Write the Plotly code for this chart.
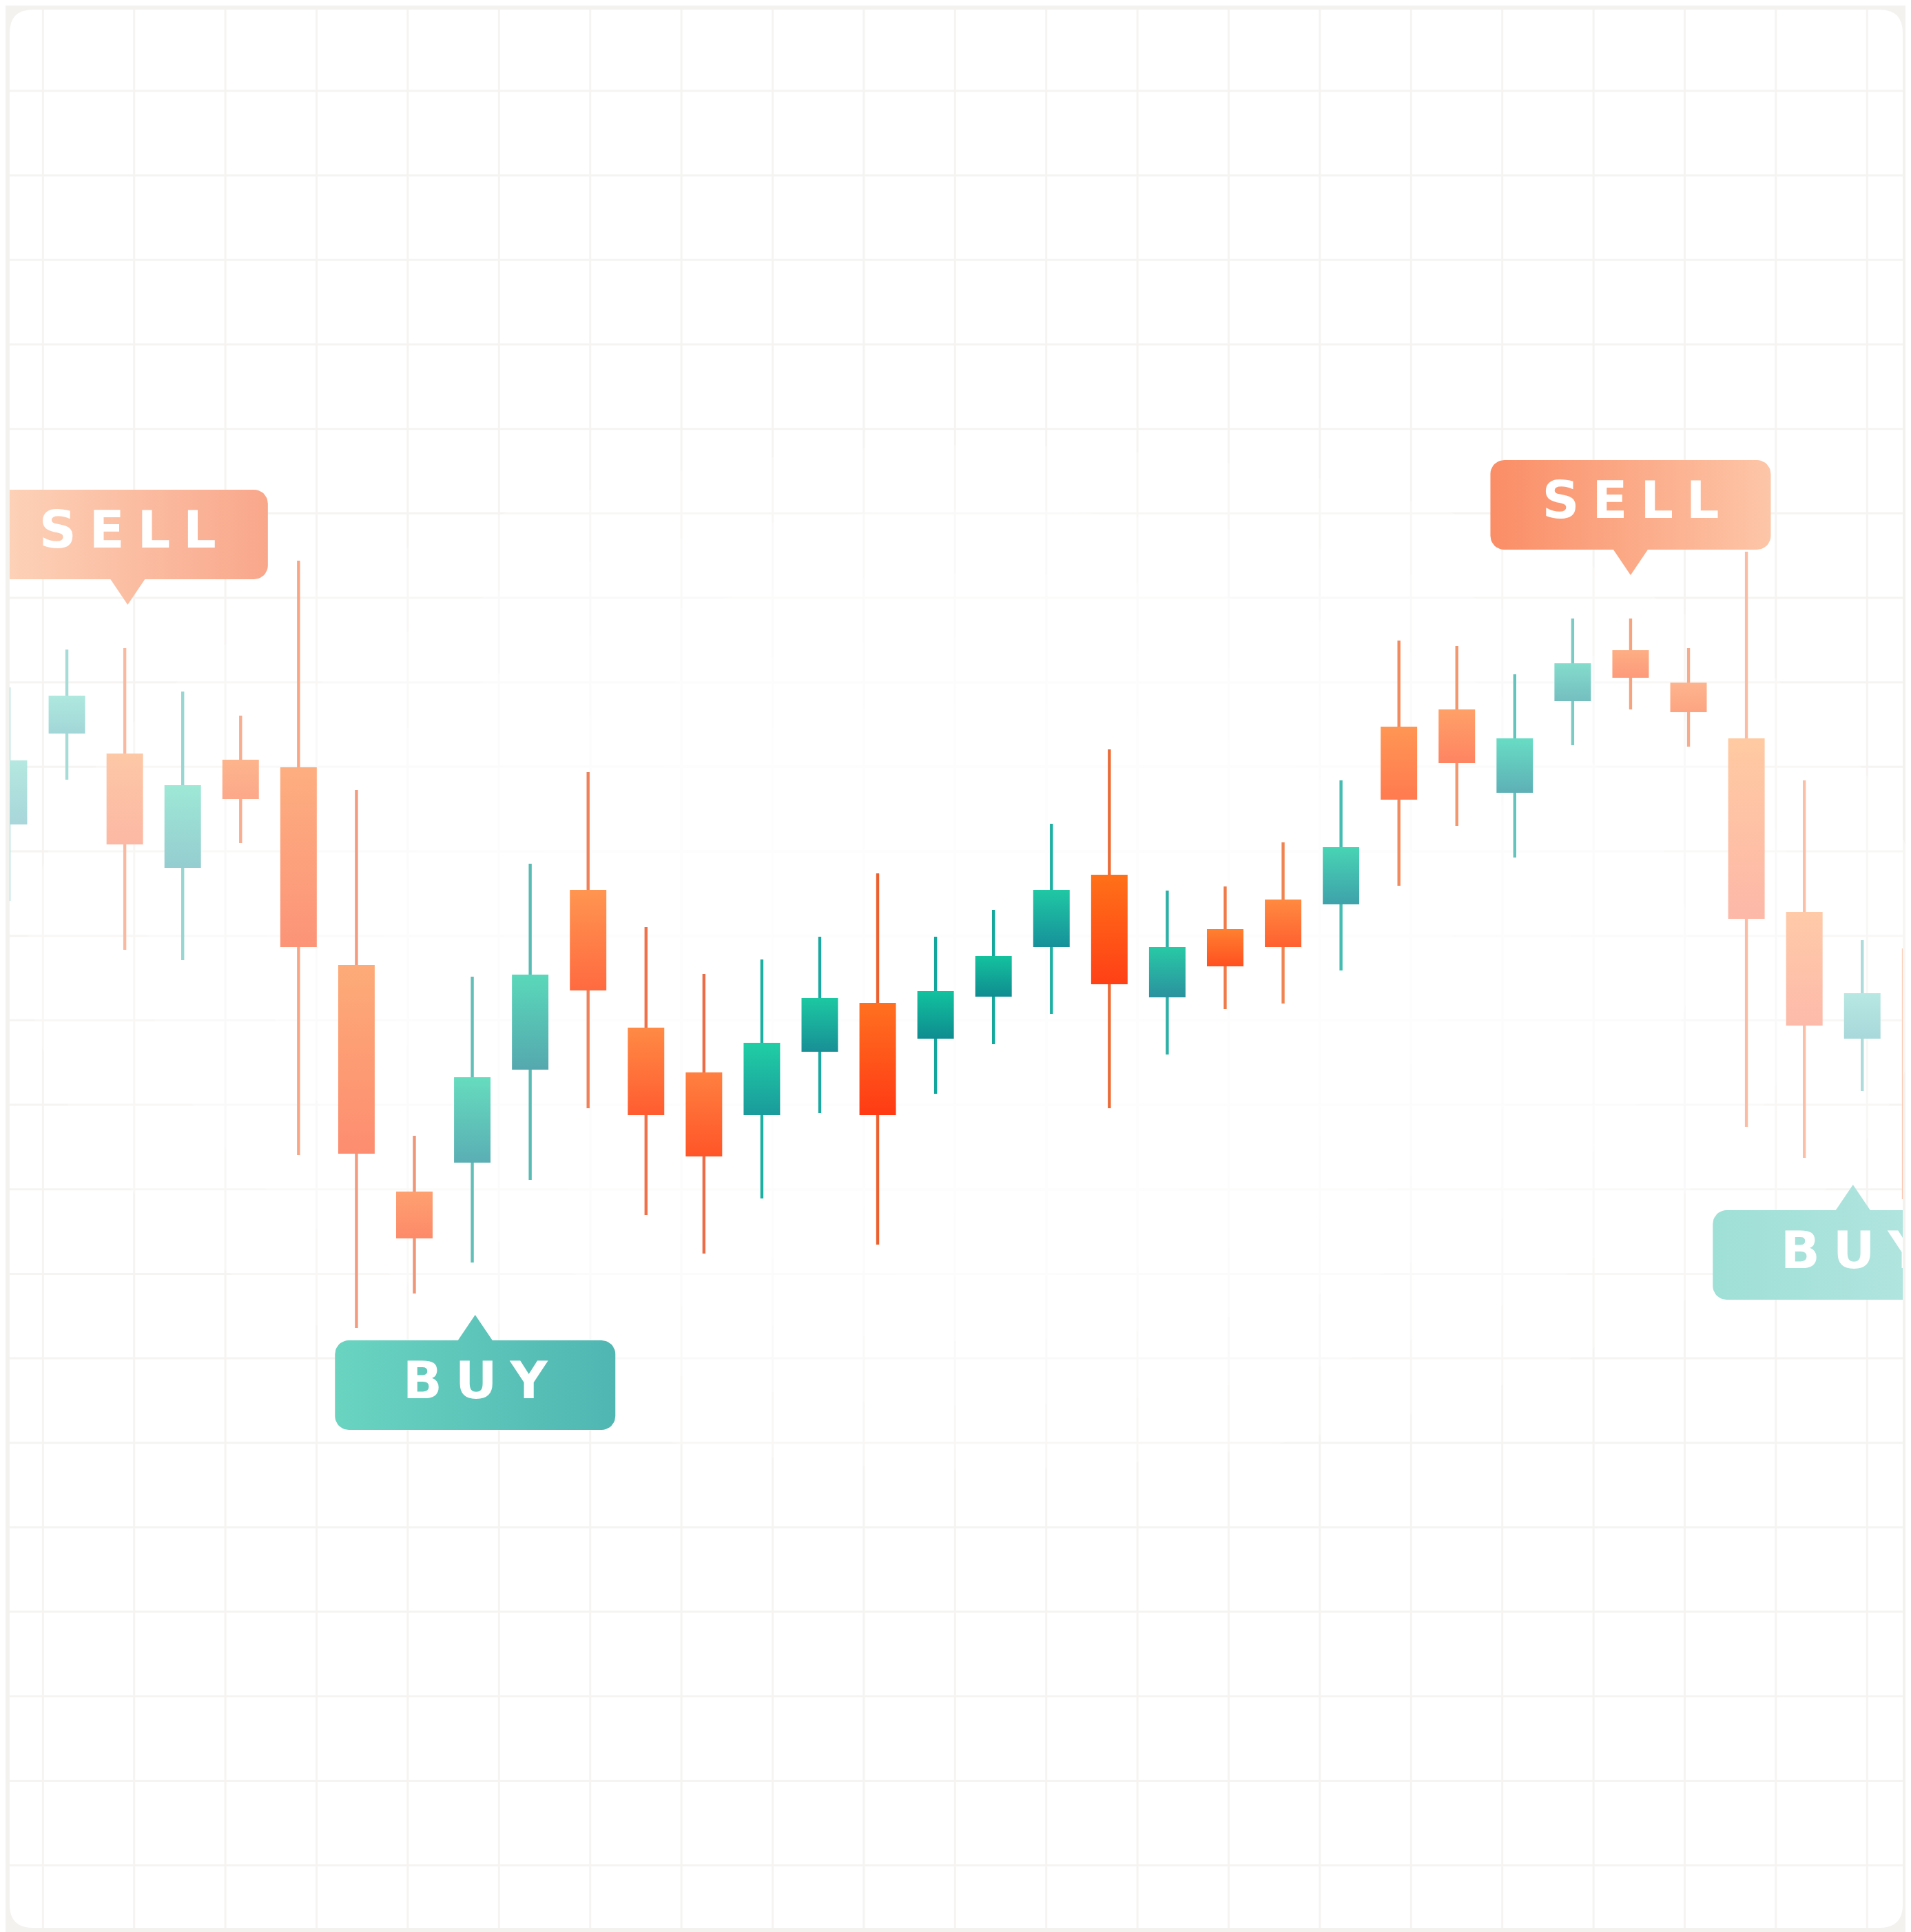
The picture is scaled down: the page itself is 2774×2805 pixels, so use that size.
import math
import plotly.graph_objects as go

# ---------------- data ----------------
candle_index = list(range(34))
open_ = [160.3, 173.5, 170.6, 154.0, 169.7, 168.6, 139.9, 107.0, 111.2, 124.7,
         150.8, 130.8, 124.3, 118.1, 127.3, 134.4, 129.2, 135.3, 142.5, 153.0,
         135.2, 145.1, 149.4, 148.7, 174.5, 177.0, 164.9, 178.2, 185.6, 180.9,
         172.8, 147.6, 129.2, 142.3]
high = [180.2, 185.7, 185.9, 179.6, 176.1, 198.6, 165.3, 115.1, 138.2, 154.6,
        167.9, 145.4, 138.6, 140.7, 144.0, 153.2, 144.0, 147.9, 160.4, 171.2,
        150.7, 151.3, 157.7, 166.7, 187.0, 186.2, 182.1, 190.2, 190.2, 185.9,
        199.9, 166.7, 143.5, 150.0]
low = [149.2, 166.8, 142.1, 140.6, 157.6, 112.3, 87.2, 92.2, 96.7, 108.7,
       119.1, 103.6, 98.0, 106.0, 118.4, 99.3, 121.2, 128.4, 132.8, 119.1,
       126.9, 133.5, 134.3, 139.1, 151.4, 160.1, 155.5, 171.8, 177.0, 171.6,
       116.4, 111.9, 121.6, 95.0]
close = [169.6, 179.0, 157.4, 166.0, 164.0, 142.5, 112.5, 100.2, 123.6, 138.5,
         136.2, 118.1, 112.1, 128.6, 135.1, 118.1, 136.1, 141.2, 150.8, 137.1,
         142.5, 139.7, 142.5, 157.0, 163.9, 169.2, 172.8, 183.7, 181.6, 176.6,
         146.6, 131.1, 135.8, 105.9]

signal_text = ["SELL", "BUY", "SELL", "BUY"]
signal_x = [2.05, 8.05, 28.0, 31.84]       # candle index the pointer marks
signal_y = [192.2, 89.1, 196.5, 108.0]     # price at the pointer tip

# ---------------- styles ----------------
body_top = ["#b5e8e0", "#aee8de", "#fdc8a6", "#9ee8d6", "#fdb48c", "#fdae80", "#fdab78",
            "#fea070", "#66dcbe", "#5ad8ba", "#ff9550", "#ff8a45", "#ff8040", "#20cfa5",
            "#1cc8a2", "#ff7020", "#12c29e", "#14c29e", "#20c8a4", "#ff7018", "#28c9a6",
            "#ff8030", "#ff8a40", "#48d4b4", "#ff9654", "#ffa068", "#68dcc4", "#84dccc",
            "#fdae84", "#fdb48e", "#ffcaa2", "#ffcaa8", "#b8e8e2", "#fdd0b8"]
body_bottom = ["#a8d6da", "#a2d6d8", "#fcb8a4", "#95cdd0", "#fca88a", "#fc9478", "#fd8d70",
               "#fd8a6a", "#5aaeb4", "#55a8ae", "#ff6a40", "#ff5c30", "#ff5528", "#1a9a9c",
               "#188f96", "#ff3a14", "#0e8c90", "#0f8c90", "#16909a", "#ff4016", "#2a929e",
               "#ff5020", "#ff6030", "#3ea2aa", "#ff7a50", "#fe8462", "#5eb0b6", "#74bec0",
               "#fd9a7a", "#fda482", "#fdb8a8", "#fdbaaa", "#a8d8da", "#fdc4b0"]
wick_color = ["#a9dcd8", "#a5dcd8", "#f9b9a0", "#98d6d2", "#f7ad90", "#f9a584", "#f49a7f",
              "#ee9677", "#62bfb8", "#58bcb5", "#ef8058", "#f0704a", "#ec6c48", "#1cb0a2",
              "#1aa8a0", "#ec6030", "#12a69c", "#14a89c", "#1eb0a2", "#ec6a36", "#2ab0a6",
              "#f07a48", "#f08450", "#44bcb2", "#f28a5e", "#f2966e", "#62c4bc", "#7ccac4",
              "#f5a482", "#f5ab8c", "#fbbca4", "#fbbfa8", "#aedcda", "#fcc8b4"]
bubble_colors = [("#fdd5bb", "#f9a78b"), ("#6ad4c1", "#50b6b2"),
                 ("#fa8d66", "#fdc6a8"), ("#9fe0d6", "#b8e6e2")]

W, H = 2774, 2805
OFF = 8                       # page body margin in front of the figure
# card (plot area) edges in page pixels
CARD_L, CARD_R, CARD_T, CARD_B = 14, 2762, 14, 2799
ML, MT = CARD_L - OFF, CARD_T - OFF
MR, MB = W - (CARD_R - OFF), H - (CARD_B - OFF)
PX_PER_X = 84.07     # pixels per candle step
PX_PER_Y = 10.0      # pixels per price unit
X0_PX = 13.0 - OFF   # figure pixel of candle 0
Y0_PX = 2800.0 - OFF  # figure pixel of price 0

x_range = [(ML - X0_PX) / PX_PER_X, (W - MR - X0_PX) / PX_PER_X]
y_range = [(Y0_PX - (H - MB)) / PX_PER_Y, (Y0_PX - MT) / PX_PER_Y]

fig = go.Figure()

# wicks
fig.add_trace(go.Bar(
    x=candle_index,
    y=[h - l for h, l in zip(high, low)],
    base=low,
    width=0.052,
    marker=dict(color=wick_color, line=dict(width=0)),
    hoverinfo="skip", showlegend=False,
))

# bodies with vertical gradient
HW = 0.315
for i, o, c, ct, cb in zip(candle_index, open_, close, body_top, body_bottom):
    lo, hi = min(o, c), max(o, c)
    fig.add_trace(go.Scatter(
        x=[i - HW, i + HW, i + HW, i - HW, i - HW],
        y=[lo, lo, hi, hi, lo],
        mode="lines", fill="toself",
        fillgradient=dict(type="vertical", colorscale=[[0, cb], [1, ct]]),
        line=dict(width=0, color="rgba(0,0,0,0)"),
        hoverinfo="skip", showlegend=False,
    ))

# signal bubbles
BW, BH, PH, PW, R = 407.0, 130.0, 37.0, 25.0, 20.0


def bubble_px(direction):
    """Outline in pixel offsets from the pointer tip, y pointing down; box above tip."""
    x0, x1 = -BW / 2, BW / 2
    y1 = -PH
    y0 = -PH - BH
    pts = [(0.0, 0.0), (PW, y1), (x1 - R, y1)]

    def arc(cx, cy, a0, a1, n=10):
        return [(cx + R * math.cos(math.radians(a0 + (a1 - a0) * k / n)),
                 cy + R * math.sin(math.radians(a0 + (a1 - a0) * k / n))) for k in range(n + 1)]

    pts += arc(x1 - R, y1 - R, 90, 0)
    pts += arc(x1 - R, y0 + R, 0, -90)
    pts += arc(x0 + R, y0 + R, -90, -180)
    pts += arc(x0 + R, y1 - R, 180, 90)
    pts += [(-PW, y1), (0.0, 0.0)]
    return [(px, py * direction) for px, py in pts]


SP = "\u2005"
for txt, sx, sy, (cl, cr) in zip(signal_text, signal_x, signal_y, bubble_colors):
    direction = 1 if txt == "SELL" else -1
    pts = bubble_px(direction)
    fig.add_trace(go.Scatter(
        x=[sx + px / PX_PER_X for px, py in pts],
        y=[sy - py / PX_PER_Y for px, py in pts],
        mode="lines", fill="toself",
        fillgradient=dict(type="horizontal", colorscale=[[0, cl], [1, cr]]),
        line=dict(width=0, color="rgba(0,0,0,0)"),
        hoverinfo="skip", showlegend=False,
    ))
    cy_px = -(PH + BH / 2) * direction
    fig.add_trace(go.Scatter(
        x=[sx], y=[sy - cy_px / PX_PER_Y],
        mode="text", text=[SP.join(txt)],
        textposition="middle center",
        textfont=dict(family="DejaVu Sans", size=75, color="white", weight="bold"),
        hoverinfo="skip", showlegend=False, cliponaxis=True,
    ))

# card (rounded white panel), faint grid, and a soft central glow over the grid
pw_, ph_ = W - ML - MR, H - MT - MB
rx, ry = 34 / pw_, 34 / ph_
card = (f"M {rx},0 L {1-rx},0 Q 1,0 1,{ry} L 1,{1-ry} Q 1,1 {1-rx},1 "
        f"L {rx},1 Q 0,1 0,{1-ry} L 0,{ry} Q 0,0 {rx},0 Z")
shapes = [dict(type="path", xref="paper", yref="paper", path=card,
               fillcolor="#ffffff", line=dict(width=0), layer="below")]

GRID_COLOR = "#f5f4f2"
for k in range(21):
    gx = (62.3 + 132.4 * k - CARD_L) / pw_
    shapes.append(dict(type="line", xref="paper", yref="paper", x0=gx, x1=gx, y0=0, y1=1,
                       line=dict(color=GRID_COLOR, width=3), layer="below"))
for k in range(22):
    gy = 1 - (132 + 122.67 * k - CARD_T) / ph_
    shapes.append(dict(type="line", xref="paper", yref="paper", x0=0, x1=1, y0=gy, y1=gy,
                       line=dict(color=GRID_COLOR, width=3), layer="below"))

gcx, gcy = 1420, 1390
for s in [1.2, 1.05, 0.9, 0.75, 0.6, 0.45]:
    rxp, ryp = 1150 * s, 620 * s
    shapes.append(dict(
        type="circle", xref="paper", yref="paper",
        x0=(gcx - rxp - CARD_L) / pw_, x1=(gcx + rxp - CARD_L) / pw_,
        y0=1 - (gcy + ryp - CARD_T) / ph_, y1=1 - (gcy - ryp - CARD_T) / ph_,
        fillcolor="rgba(255,255,255,0.3)", line=dict(width=0), layer="below"))

fig.update_layout(
    width=W, height=H,
    margin=dict(l=ML, r=MR, t=MT, b=MB, pad=0),
    paper_bgcolor="#f4f2ef",
    plot_bgcolor="rgba(0,0,0,0)",
    barmode="overlay",
    showlegend=False,
    shapes=shapes,
    xaxis=dict(range=x_range, showgrid=False, showticklabels=False, ticks="",
               zeroline=False, showline=False, fixedrange=True),
    yaxis=dict(range=y_range, showgrid=False, showticklabels=False, ticks="",
               zeroline=False, showline=False, fixedrange=True),
)

fig.write_html("out.html")
